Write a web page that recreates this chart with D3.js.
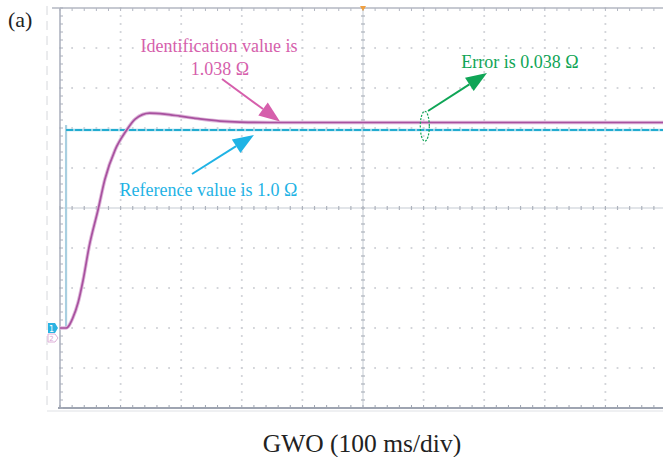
<!DOCTYPE html>
<html>
<head>
<meta charset="utf-8">
<script src="https://cdn.jsdelivr.net/npm/d3@7"></script>
<style>
  body { margin: 0; background: #fff; }
  svg { display: block; font-family: "Liberation Serif", "DejaVu Serif", serif; }
</style>
</head>
<body>
<div id="chart"></div>
<script>
// time in ms (100 ms/div), resistance in ohm
const refTime = [0, 10, 10, 1000];
const refValue = [0, 0, 1.0, 1.0];

const idTime = [0, 10, 13, 21, 30, 38, 48, 63, 74, 91, 109, 124, 148, 173, 198, 231, 264, 297, 346, 1000];
const idValue = [0, 0, 0.005, 0.05, 0.13, 0.24, 0.41, 0.60, 0.75, 0.90, 0.995, 1.055, 1.085, 1.08, 1.07, 1.056, 1.045, 1.04, 1.038, 1.038];

const divsX = d3.range(0, 11);
const divsY = d3.range(-5, 6);

const W = 663, H = 457;
const svg = d3.select('#chart').append('svg').attr('width', W).attr('height', H);

const x = d3.scaleLinear().domain([0, 1000]).range([60, 666]);
const xDiv = d3.scaleLinear().domain([0, 10]).range([60, 666]);
const yDiv = d3.scaleLinear().domain([-5, 5]).range([408, 8]);
const y = d3.scaleLinear().domain([0, 1]).range([328, 130]);

const grid = svg.append('g');

// outer dashed guide on the far left
grid.append('line')
    .attr('x1', 47).attr('x2', 47).attr('y1', 6).attr('y2', 410)
    .attr('stroke', '#d6d8dc').attr('stroke-width', 1).attr('stroke-dasharray', '9,6');
grid.append('line')
    .attr('x1', 47).attr('x2', 663).attr('y1', 411).attr('y2', 411)
    .attr('stroke', '#dfe1e5').attr('stroke-width', 1);

// dotted grid
const minorX = d3.range(0, 50.01, 1).map(i => xDiv(i / 5));
const minorY = d3.range(0, 50.01, 1).map(i => yDiv(-5 + i / 5));

divsY.filter(d => d !== -5 && d !== 5 && d !== 0).forEach(d => {
    grid.append('g').selectAll('rect').data(minorX).join('rect')
        .attr('x', v => v - 0.9).attr('y', yDiv(d) - 0.9)
        .attr('width', 1.8).attr('height', 1.8).attr('fill', '#cfd1d6');
});
divsX.filter(d => d !== 0 && d !== 5 && d !== 10).forEach(d => {
    grid.append('g').selectAll('rect').data(minorY).join('rect')
        .attr('x', xDiv(d) - 0.9).attr('y', v => v - 0.9)
        .attr('width', 1.8).attr('height', 1.8).attr('fill', '#cfd1d6');
});

// center crosshair with ticks
grid.append('line')
    .attr('x1', xDiv(5)).attr('x2', xDiv(5)).attr('y1', yDiv(5)).attr('y2', yDiv(-5))
    .attr('stroke', '#d9dce2').attr('stroke-width', 1.5);
grid.append('line')
    .attr('x1', 60).attr('x2', 663).attr('y1', yDiv(0)).attr('y2', yDiv(0))
    .attr('stroke', '#d9dce2').attr('stroke-width', 1.5);
grid.append('g').selectAll('line').data(minorY).join('line')
    .attr('x1', xDiv(5) - 2).attr('x2', xDiv(5) + 2).attr('y1', v => v).attr('y2', v => v)
    .attr('stroke', '#aeb3bd').attr('stroke-width', 1.2);
grid.append('g').selectAll('line').data(minorX).join('line')
    .attr('x1', v => v).attr('x2', v => v).attr('y1', yDiv(0) - 2).attr('y2', yDiv(0) + 2)
    .attr('stroke', '#aeb3bd').attr('stroke-width', 1.2);

// frame
grid.append('line')
    .attr('x1', 60).attr('x2', 60).attr('y1', yDiv(5)).attr('y2', yDiv(-5))
    .attr('stroke', '#a9aebb').attr('stroke-width', 1.5);
grid.append('line')
    .attr('x1', 52).attr('x2', 663).attr('y1', yDiv(5)).attr('y2', yDiv(5))
    .attr('stroke', '#b3b7c2').attr('stroke-width', 1.5);
grid.append('line')
    .attr('x1', 58).attr('x2', 663).attr('y1', yDiv(-5)).attr('y2', yDiv(-5))
    .attr('stroke', '#9ea4b1').attr('stroke-width', 2);
grid.append('g').selectAll('line').data(minorY).join('line')
    .attr('x1', 60).attr('x2', 63).attr('y1', v => v).attr('y2', v => v)
    .attr('stroke', '#a9aebb').attr('stroke-width', 1);
grid.append('g').selectAll('line').data(minorX).join('line')
    .attr('x1', v => v).attr('x2', v => v).attr('y1', yDiv(5)).attr('y2', yDiv(5) + 3)
    .attr('stroke', '#b3b7c2').attr('stroke-width', 1);
grid.append('g').selectAll('line').data(minorX).join('line')
    .attr('x1', v => v).attr('x2', v => v).attr('y1', yDiv(-5)).attr('y2', yDiv(-5) - 3)
    .attr('stroke', '#9ea4b1').attr('stroke-width', 1);

// trigger marker
grid.append('path')
    .attr('d', `M${xDiv(5) - 3},${yDiv(5) - 2} L${xDiv(5) + 3},${yDiv(5) - 2} L${xDiv(5)},${yDiv(5) + 3} Z`)
    .attr('fill', '#f0a040');

// traces
const refData = refTime.map((t, i) => ({ t, v: refValue[i] }));
const idData = idTime.map((t, i) => ({ t, v: idValue[i] }));

const stepLine = d3.line().x(d => x(d.t)).y(d => y(d.v));
const smoothLine = d3.line().x(d => x(d.t)).y(d => y(d.v)).curve(d3.curveMonotoneX);

const traces = svg.append('g');

// reference: pale step, then dashed cyan horizontal parts
traces.append('path').datum(refData)
    .attr('fill', 'none').attr('stroke', '#a9cfe0').attr('stroke-width', 2.2)
    .attr('d', stepLine);
traces.append('line')
    .attr('x1', x(10)).attr('x2', x(10)).attr('y1', y(1.025)).attr('y2', y(1.0))
    .attr('stroke', '#a9cfe0').attr('stroke-width', 2.2);
traces.append('path').datum(refData.slice(2))
    .attr('fill', 'none').attr('stroke', '#9bd8ea').attr('stroke-width', 2.4)
    .attr('d', stepLine);
traces.append('path').datum(refData.slice(2))
    .attr('fill', 'none').attr('stroke', '#22acd0').attr('stroke-width', 2)
    .attr('stroke-dasharray', '7,2')
    .attr('d', stepLine);

// identification
traces.append('path').datum(idData)
    .attr('fill', 'none').attr('stroke', '#dfb9db').attr('stroke-width', 3.6)
    .attr('d', smoothLine);
traces.append('path').datum(idData)
    .attr('fill', 'none').attr('stroke', '#a8519f').attr('stroke-width', 1.7)
    .attr('d', smoothLine);

// channel markers
const mk = svg.append('g');
mk.append('path')
    .attr('d', `M48,${y(0) - 5} L55,${y(0) - 5} L58,${y(0)} L55,${y(0) + 5} L48,${y(0) + 5} Z`)
    .attr('fill', '#2bb3e2');
mk.append('text').attr('x', 51.5).attr('y', y(0) + 3.5).attr('text-anchor', 'middle')
    .attr('font-family', 'DejaVu Sans').attr('font-size', 8).attr('fill', '#fff').text('1');
mk.append('path')
    .attr('d', `M48,${y(0) + 6} L55,${y(0) + 6} L58,${y(0) + 10} L55,${y(0) + 14} L48,${y(0) + 14} Z`)
    .attr('fill', '#fff').attr('stroke', '#deb0d8').attr('stroke-width', 1);
mk.append('text').attr('x', 51.5).attr('y', y(0) + 13).attr('text-anchor', 'middle')
    .attr('font-family', 'DejaVu Sans').attr('font-size', 7).attr('fill', '#d9a6d3').text('2');

// annotations
function arrow(g, x1, y1, x2, y2, color, len, half) {
    const a = Math.atan2(y2 - y1, x2 - x1);
    const bx = x2 - len * Math.cos(a), by = y2 - len * Math.sin(a);
    g.append('line').attr('x1', x1).attr('y1', y1).attr('x2', bx).attr('y2', by)
        .attr('stroke', color).attr('stroke-width', 2);
    const px = -Math.sin(a) * half, py = Math.cos(a) * half;
    g.append('path')
        .attr('d', `M${x2},${y2} L${bx + px},${by + py} L${bx - px},${by - py} Z`)
        .attr('fill', color);
}

const ann = svg.append('g');

const pink = '#d65fac';
ann.append('text').attr('x', 219).attr('y', 52).attr('text-anchor', 'middle')
    .attr('font-size', 18).attr('fill', pink).text('Identification value is');
ann.append('text').attr('x', 220).attr('y', 75).attr('text-anchor', 'middle')
    .attr('font-size', 18).attr('fill', pink).text('1.038 Ω');
arrow(ann, 222, 79, x(363), y(1.038) - 1, pink, 21, 8);

const cyan = '#1fb3e5';
ann.append('text').attr('x', 208.5).attr('y', 196).attr('text-anchor', 'middle')
    .attr('font-size', 18).attr('fill', cyan).text('Reference value is 1.0 Ω');
arrow(ann, 192, 174, x(320), y(0.975), cyan, 21, 8);

const green = '#0fa556';
ann.append('text').attr('x', 520).attr('y', 68).attr('text-anchor', 'middle')
    .attr('font-size', 18).attr('fill', green).text('Error is 0.038 Ω');
arrow(ann, 428, 111, 487, 73, green, 21, 8);
ann.append('ellipse')
    .attr('cx', x(602)).attr('cy', y(1.019)).attr('rx', 4.5).attr('ry', 15)
    .attr('fill', 'none').attr('stroke', green).attr('stroke-width', 1.2)
    .attr('stroke-dasharray', '2,1.5');

svg.append('text').attr('x', 8).attr('y', 27)
    .attr('font-size', 22).attr('fill', '#222').text('(a)');

svg.append('text').attr('x', 362).attr('y', 452).attr('text-anchor', 'middle')
    .attr('font-size', 25.5).attr('fill', '#222').text('GWO (100 ms/div)');
</script>
</body>
</html>
